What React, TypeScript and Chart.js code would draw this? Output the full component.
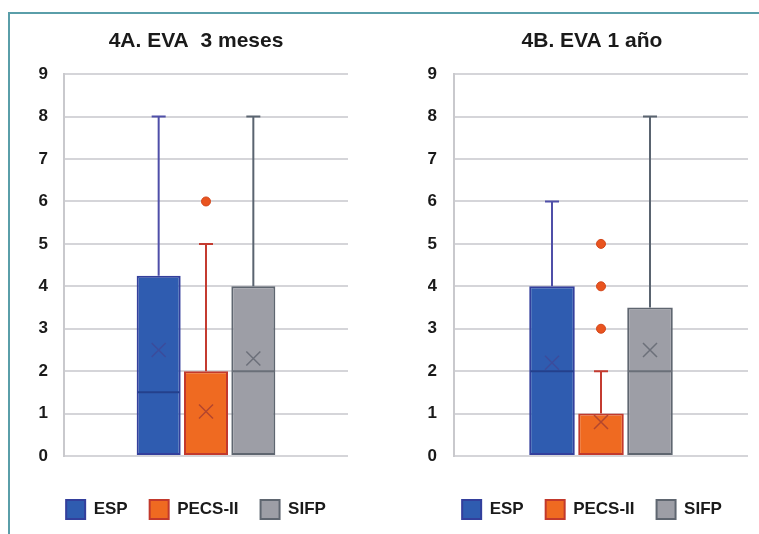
import React, { useEffect, useRef } from 'react';
import { Chart, registerables } from 'chart.js';

Chart.register(...registerables);

// ---------- data ----------
const categories = ['ESP', 'PECS-II', 'SIFP'];
const yMin = 0;
const yMax = 9;
const yStep = 1;

// 4A. EVA 3 meses
const title3m = '4A. EVA  3 meses';
const min3m = [0, 0, 0];
const q1_3m = [0, 0, 0];
const median3m = [1.5, 0, 2];
const q3_3m = [4.25, 2, 4];
const max3m = [8, 5, 8];
const mean3m = [2.5, 1.05, 2.3];
const outliers3m: number[][] = [[], [6], []];

// 4B. EVA 1 año
const title1y = '4B. EVA 1 año';
const min1y = [0, 0, 0];
const q1_1y = [0, 0, 0];
const median1y = [2, 0, 2];
const q3_1y = [4, 1, 3.5];
const max1y = [6, 2, 8];
const mean1y = [2.2, 0.8, 2.5];
const outliers1y: number[][] = [[], [3, 4, 5], []];

// ---------- styles ----------
const FONT = "'Liberation Sans', Arial, sans-serif";
const fills = ['#2f5cb0', '#ef6a21', '#9d9ea6'];
const borders = ['#333f9c', '#c2392c', '#5f6670'];
const whiskerColors = ['#4f4fa8', '#c43b30', '#5a6470'];
const medianColors = ['#24408c', '#c2392c', '#6a6f78'];
const meanColors = ['#3c4c9c', '#b3462e', '#6c707a'];
const outlierFill = '#e9541f';
const outlierBorder = '#d2461a';

type Stats = {
  min: number[];
  q1: number[];
  median: number[];
  q3: number[];
  max: number[];
  mean: number[];
  outliers: number[][];
};

const boxPlotPlugin = {
  id: 'boxPlotExtras',
  afterDatasetsDraw(chart: any) {
    const stats: Stats = chart.options.plugins.boxPlotExtras.stats;
    const y = chart.scales.y;
    const ctx = chart.ctx;
    ctx.save();
    chart.data.datasets.forEach((_ds: any, i: number) => {
      const meta = chart.getDatasetMeta(i);
      const bar = meta.data[0];
      if (!bar) return;
      const { x, width } = bar.getProps(['x', 'width'], true);
      const capHalf = 7;
      // whiskers
      ctx.strokeStyle = whiskerColors[i];
      ctx.lineWidth = 2;
      const yq3 = y.getPixelForValue(stats.q3[i]);
      const yMaxP = y.getPixelForValue(stats.max[i]);
      if (stats.max[i] > stats.q3[i]) {
        ctx.beginPath();
        ctx.moveTo(x, yq3);
        ctx.lineTo(x, yMaxP);
        ctx.moveTo(x - capHalf, yMaxP);
        ctx.lineTo(x + capHalf, yMaxP);
        ctx.stroke();
      }
      const yq1 = y.getPixelForValue(stats.q1[i]);
      const yMinP = y.getPixelForValue(stats.min[i]);
      if (stats.min[i] < stats.q1[i]) {
        ctx.beginPath();
        ctx.moveTo(x, yq1);
        ctx.lineTo(x, yMinP);
        ctx.moveTo(x - capHalf, yMinP);
        ctx.lineTo(x + capHalf, yMinP);
        ctx.stroke();
      }
      // median (only when inside the box)
      if (stats.median[i] > stats.q1[i] && stats.median[i] < stats.q3[i]) {
        const yMed = y.getPixelForValue(stats.median[i]);
        ctx.strokeStyle = medianColors[i];
        ctx.lineWidth = 2;
        ctx.beginPath();
        ctx.moveTo(x - width / 2 + 1, yMed);
        ctx.lineTo(x + width / 2 - 1, yMed);
        ctx.stroke();
      }
      // mean X
      const yMean = y.getPixelForValue(stats.mean[i]);
      const s = 7;
      ctx.strokeStyle = meanColors[i];
      ctx.lineWidth = 1.5;
      ctx.beginPath();
      ctx.moveTo(x - s, yMean - s);
      ctx.lineTo(x + s, yMean + s);
      ctx.moveTo(x + s, yMean - s);
      ctx.lineTo(x - s, yMean + s);
      ctx.stroke();
      // outliers
      stats.outliers[i].forEach((v) => {
        const yo = y.getPixelForValue(v);
        ctx.beginPath();
        ctx.arc(x, yo, 4.5, 0, Math.PI * 2);
        ctx.fillStyle = outlierFill;
        ctx.fill();
        ctx.strokeStyle = outlierBorder;
        ctx.lineWidth = 1;
        ctx.stroke();
      });
    });
    ctx.restore();
  },
};

type PanelProps = {
  title: string;
  stats: Stats;
  left: number;
  width: number;
  padLeft: number;
  padRight: number;
  yAxisWidth: number;
  rightGap: number;
  tickPad: number;
};

const CANVAS_H = 515;

function Panel({ title, stats, left, width, padLeft, padRight, yAxisWidth, rightGap, tickPad }: PanelProps) {
  const ref = useRef<HTMLCanvasElement | null>(null);
  useEffect(() => {
    if (!ref.current) return;
    const chart = new Chart(ref.current, {
      type: 'bar',
      data: {
        labels: [''],
        datasets: categories.map((name, i) => ({
          label: name,
          data: [[stats.q1[i], stats.q3[i]]],
          backgroundColor: fills[i],
          borderColor: borders[i],
          borderWidth: 2,
          borderSkipped: false,
          categoryPercentage: 0.5,
          barPercentage: 0.93,
          yAxisID: 'y',
        })),
      } as any,
      options: {
        animation: false,
        responsive: false,
        events: [],
        layout: { padding: { left: padLeft, right: padRight, top: 0, bottom: 0 } },
        plugins: {
          title: {
            display: true,
            text: title,
            color: '#1a1a1a',
            font: { family: FONT, size: 21, weight: 'bold' },
            padding: { top: 15, bottom: 20 },
          },
          legend: {
            position: 'bottom',
            labels: {
              boxWidth: 19,
              boxHeight: 19,
              padding: 22,
              color: '#1a1a1a',
              font: { family: FONT, size: 17, weight: 'bold' },
            },
          },
          tooltip: { enabled: false },
          boxPlotExtras: { stats },
        } as any,
        scales: {
          x: {
            display: true,
            grid: { display: false },
            border: { display: false },
            ticks: { display: false },
            afterFit: (s: any) => {
              s.height = 22;
            },
          },
          y: {
            position: 'left',
            min: yMin,
            max: yMax,
            ticks: {
              stepSize: yStep,
              padding: tickPad,
              color: '#1a1a1a',
              font: { family: FONT, size: 17, weight: 'bold' },
            },
            grid: { color: '#d5d5d9', lineWidth: 2, drawTicks: false },
            border: { display: true, color: '#c9c9cd', width: 2 },
            afterFit: (s: any) => {
              s.width = yAxisWidth;
            },
          },
          yGap: {
            position: 'right',
            display: true,
            min: yMin,
            max: yMax,
            grid: { display: false, drawTicks: false },
            border: { display: false },
            ticks: { display: false },
            afterFit: (s: any) => {
              s.width = rightGap;
            },
          },
        },
      } as any,
      plugins: [boxPlotPlugin],
    });
    return () => chart.destroy();
  }, []);
  return (
    <canvas
      ref={ref}
      width={width}
      height={CANVAS_H}
      style={{ position: 'absolute', left, top: 0, width, height: CANVAS_H }}
    />
  );
}

const stats3m: Stats = {
  min: min3m,
  q1: q1_3m,
  median: median3m,
  q3: q3_3m,
  max: max3m,
  mean: mean3m,
  outliers: outliers3m,
};
const stats1y: Stats = {
  min: min1y,
  q1: q1_1y,
  median: median1y,
  q3: q3_1y,
  max: max1y,
  mean: mean1y,
  outliers: outliers1y,
};

export default function App() {
  return (
    <div
      style={{
        position: 'absolute',
        left: 8,
        top: 12,
        width: 751,
        height: 522,
        boxSizing: 'border-box',
        borderTop: '2px solid #5a9ea9',
        borderLeft: '2px solid #5a9ea9',
        overflow: 'hidden',
        background: '#fff',
      }}
    >
      <Panel
        title={title3m}
        stats={stats3m}
        left={0}
        width={370}
        padLeft={27}
        padRight={25}
        yAxisWidth={27}
        rightGap={7}
        tickPad={16}
      />
      <Panel
        title={title1y}
        stats={stats1y}
        left={370}
        width={379}
        padLeft={48}
        padRight={3}
        yAxisWidth={26}
        rightGap={8}
        tickPad={17}
      />
    </div>
  );
}
